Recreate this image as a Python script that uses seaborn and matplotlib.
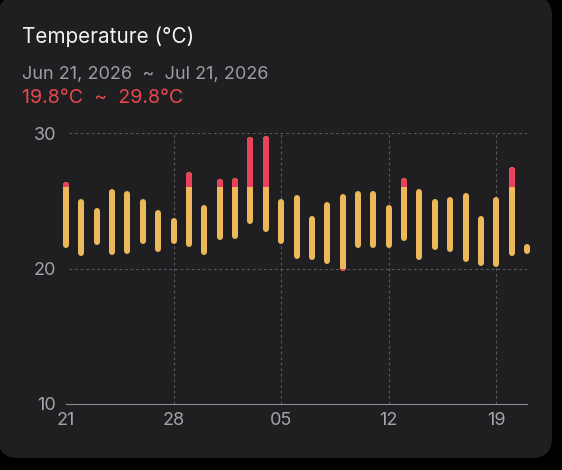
import numpy as np
import pandas as pd
import matplotlib
matplotlib.use("Agg")
import matplotlib.pyplot as plt
import seaborn as sns
from matplotlib.patches import FancyBboxPatch, Rectangle
from matplotlib.transforms import IdentityTransform

# Daily temperature ranges, Jun 21 .. Jul 21 2026
day_index = list(range(31))
lows = [21.5, 20.9, 21.7, 21.0, 21.1, 21.8, 21.2, 21.8, 21.6, 21.0,
        22.1, 22.2, 23.3, 22.7, 21.8, 20.7, 20.6, 20.3, 19.8, 21.5,
        21.5, 21.5, 22.0, 20.6, 21.4, 21.2, 20.5, 20.2, 20.1, 20.9,
        21.1]
highs = [26.4, 25.1, 24.5, 25.9, 25.7, 25.1, 24.3, 23.7, 27.1, 24.7,
         26.6, 26.7, 29.7, 29.8, 25.1, 25.4, 23.9, 24.9, 25.5, 25.7,
         25.7, 24.7, 26.7, 25.9, 25.1, 25.3, 25.6, 23.9, 25.3, 27.5,
         21.8]
tick_days = [0, 7, 14, 21, 28]
tick_labels = ["21", "28", "05", "12", "19"]
y_ticks = [10, 20, 30]
hot_limit = 26
cold_limit = 20

CARD = "#1f1f21"
YELLOW = "#ebb95c"
RED = "#e8435a"
GRID = "#58585c"
LABEL = "#a3a3a8"

sns.set_theme(style="dark", rc={"axes.facecolor": "none",
                                "figure.facecolor": "black"})
plt.rcParams["font.family"] = ["Inter", "DejaVu Sans"]

W, H = 562, 470
fig = plt.figure(figsize=(W / 100, H / 100), dpi=100)

# rounded dark card behind everything
card = FancyBboxPatch((-2, 12), 554, 462, boxstyle="round,pad=0,rounding_size=20",
                      transform=IdentityTransform(), facecolor=CARD,
                      edgecolor="none", zorder=-5)
fig.patches.append(card)

left, right, top, bottom = 66, 527, 133, 404
ax = fig.add_axes([left / W, (H - bottom) / H, (right - left) / W, (bottom - top) / H])
ax.set_xlim(0, 30)
ax.set_ylim(10, 30)

# round caps stick out half a line width; pull the ends in so the bar spans low..high
bar_px = 6
px_per_deg = (bottom - top) / 20
inset = (bar_px / 2) / px_per_deg
lw_pt = bar_px * 72 / 100

rows = []
for d, lo, hi in zip(day_index, lows, highs):
    a, b = lo + inset, hi - inset
    if b < a:
        a = b = (lo + hi) / 2
    rows.append({"day": d, "temp": a})
    rows.append({"day": d, "temp": b})
df = pd.DataFrame(rows)


def draw_bars(color, clip=None):
    n0 = len(ax.lines)
    sns.lineplot(data=df, x="day", y="temp", units="day", estimator=None,
                 color=color, linewidth=lw_pt, solid_capstyle="round",
                 sort=False, legend=False, ax=ax, zorder=3)
    for ln in ax.lines[n0:]:
        if clip is None:
            ln.set_clip_on(False)
        else:
            ln.set_clip_path(Rectangle((-5, clip[0]), 40, clip[1] - clip[0],
                                       transform=ax.transData))


draw_bars(YELLOW)
draw_bars(RED, clip=(hot_limit, 40))
draw_bars(RED, clip=(0, cold_limit))

# dashed reference grid
for x in tick_days[1:]:
    ax.axvline(x, color=GRID, linewidth=0.8, linestyle=(0, (2.5, 2.5)), zorder=1)
for y in y_ticks[1:]:
    ax.axhline(y, color=GRID, linewidth=0.8, linestyle=(0, (2.5, 2.5)), zorder=1,
               xmin=0.006)

for s in ["top", "right", "left"]:
    ax.spines[s].set_visible(False)
ax.spines["bottom"].set_color("#8c8c90")
ax.spines["bottom"].set_linewidth(0.8)

ax.set_xticks(tick_days, tick_labels)
ax.set_yticks(y_ticks, [str(v) for v in y_ticks])
ax.tick_params(axis="both", length=0, labelsize=13, colors=LABEL)
ax.tick_params(axis="x", pad=5.5)
ax.tick_params(axis="y", pad=7)
ax.set_xlabel("")
ax.set_ylabel("")
ax.grid(False)

fig.text(22.5 / W, (H - 43) / H, "Temperature (°C)", color="#f2f2f4",
         fontsize=14.9, va="baseline", ha="left")
fig.text(22.5 / W, (H - 79) / H, "Jun 21, 2026  ~  Jul 21, 2026", color="#9c9ca1",
         fontsize=13.0, va="baseline", ha="left")
fig.text(22.5 / W, (H - 103) / H, "19.8°C  ~  29.8°C", color="#e5484d",
         fontsize=14.2, va="baseline", ha="left")

fig.savefig("out.png", dpi=100, facecolor="black")
